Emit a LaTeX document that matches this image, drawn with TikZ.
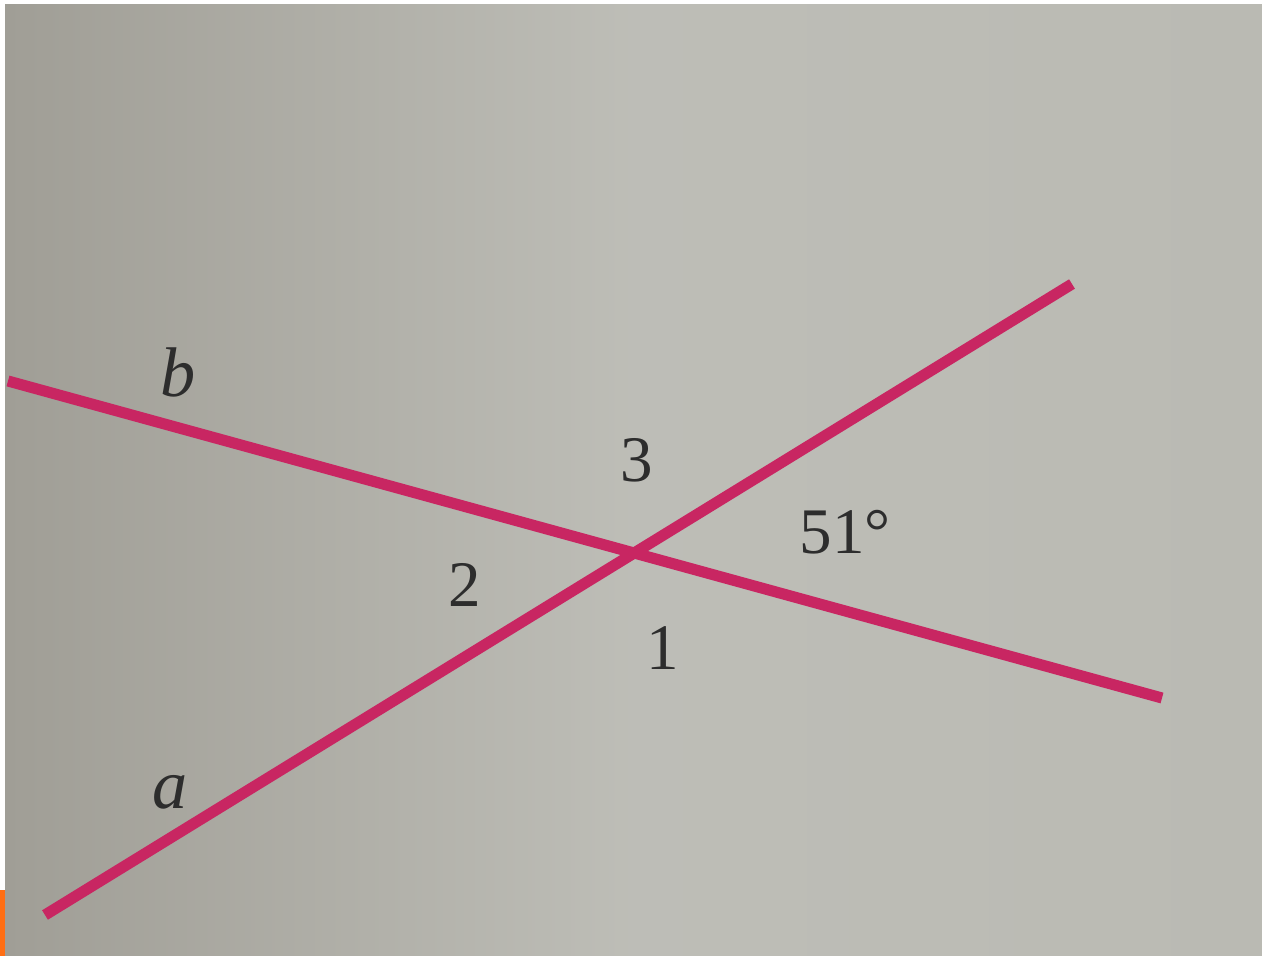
\documentclass[tikz,border=0pt]{standalone}
\usepackage{fontspec}
\setmainfont{Liberation Serif}
\definecolor{linecol}{RGB}{200,38,98}
\definecolor{txtcol}{RGB}{45,45,45}
\definecolor{bgleft}{RGB}{160,158,150}
\definecolor{bgright}{RGB}{186,186,179}
\definecolor{orangebar}{RGB}{255,110,20}
\tikzset{
  ray/.style={draw=linecol, line width=6.3pt, line cap=butt},
  numlab/.style={text=txtcol, font=\fontsize{37}{40}\selectfont, inner sep=0pt},
  letlab/.style={text=txtcol, font=\fontsize{40}{44}\selectfont\itshape, inner sep=0pt}
}
\begin{document}
\begin{tikzpicture}[x=0.02cm,y=-0.02cm]
\useasboundingbox (0,0) rectangle (1262,956);
\fill[white] (0,0) rectangle (1262,956);
\shade[left color=bgleft, right color=bgright, middle color=bgright!95!white] (5,5) rectangle (1262,956);
\fill[orangebar] (0,890) rectangle (5,956);
% line endpoints
\coordinate (b1) at (8,381);
\coordinate (b2) at (1162,698);
\coordinate (a1) at (45,915);
\coordinate (a2) at (1072,284);
\draw[ray] (b1) -- (b2);
\draw[ray] (a1) -- (a2);
% labels
\node[letlab] (lb) at (178,372) {b};
\node[letlab] (la) at (170,792) {a};
\node[numlab] (l3) at (637,460) {3};
\node[numlab] (l51) at (845,532) {51°};
\node[numlab] (l2) at (465,585) {2};
\node[numlab] (l1) at (663,648) {1};
\end{tikzpicture}
\end{document}
